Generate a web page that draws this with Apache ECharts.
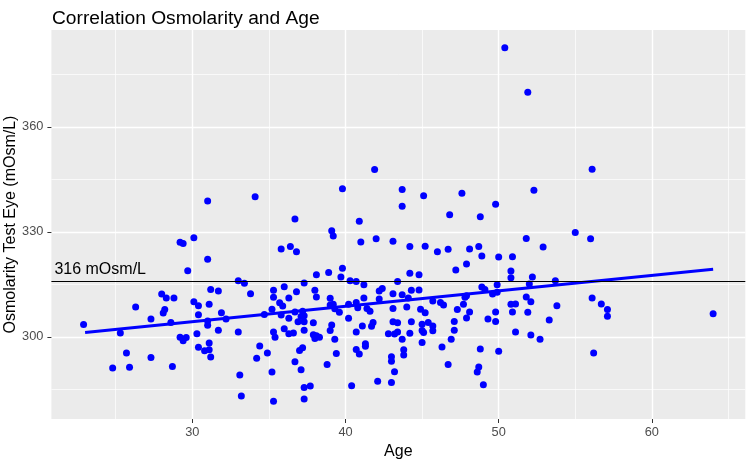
<!DOCTYPE html>
<html>
<head>
<meta charset="utf-8">
<title>Correlation Osmolarity and Age</title>
<script src="https://cdn.jsdelivr.net/npm/echarts@6/dist/echarts.min.js"></script>
<style>
  html, body { margin: 0; padding: 0; background: #fff; }
  #chart { width: 750px; height: 462px; }
</style>
</head>
<body>
<div id="chart"></div>
<script>
// values
const ages = [
  31.0, 34.1, 41.9, 39.8, 43.7, 43.7, 36.7, 40.9, 50.4, 51.9, 45.1, 47.6, 46.8, 48.8, 49.8, 52.3, 55.0, 56.1,
  29.2, 29.4, 30.1, 31.0, 29.7, 31.2, 31.7, 28.0, 28.3, 28.8, 30.1, 30.4, 31.1, 26.3, 28.2, 28.1, 30.4, 31.9,
  27.3, 28.6, 31.0, 31.0, 32.2, 22.9, 25.3, 31.7, 30.3, 29.2, 29.4, 29.6, 31.1, 30.4, 30.8, 31.1, 31.2, 25.7,
  27.3, 24.8, 25.9, 28.7,
  39.1, 39.2, 35.8, 36.4, 36.8, 41.0, 42.0, 43.1, 39.8, 39.7, 38.9, 38.1, 33.0, 33.4, 33.8, 35.3, 36.0, 37.3,
  36.8, 38.0, 35.3, 36.3, 38.1, 39.0, 40.3, 40.7, 41.2, 42.2, 42.4, 43.1, 43.4, 43.7, 35.7, 35.9, 35.2, 34.7,
  36.3, 35.8, 36.7, 37.2, 37.3, 37.1, 36.9, 37.3, 37.9, 39.0, 39.2, 39.3, 39.6, 40.2, 40.2, 40.7, 40.8, 41.2,
  41.4, 41.6, 42.2, 43.1, 33.0, 35.3, 35.4, 36.0, 36.3, 36.6, 37.3, 37.9, 38.0, 38.1, 38.3, 39.0, 39.1, 39.3,
  40.7, 41.1, 41.8, 41.7, 42.8, 43.1, 43.4, 43.2, 43.4, 43.7, 34.4, 34.9, 34.2, 37.0, 37.2, 39.4, 40.7, 40.9,
  41.3, 41.3, 43.0, 43.0, 43.8, 43.8, 36.7, 37.1, 38.8, 43.2, 33.1, 35.2, 42.1, 43.0, 37.3, 37.7, 40.4, 33.2,
  35.3, 37.3,
  51.8, 52.9, 44.2, 45.2, 46.0, 46.7, 48.1, 48.7, 48.9, 50.0, 50.9, 47.9, 47.2, 50.8, 44.2, 44.8, 50.8, 52.2,
  53.7, 52.0, 49.9, 48.9, 49.1, 49.6, 49.9, 47.9, 47.8, 44.3, 44.8, 44.1, 45.7, 46.2, 46.4, 47.7, 44.0, 44.9,
  45.2, 47.3, 48.1, 47.9, 49.8, 49.3, 49.8, 50.8, 51.1, 50.9, 51.8, 52.1, 51.9, 53.8, 53.3, 44.3, 45.0, 45.4,
  45.7, 45.7, 45.0, 45.1, 44.2, 47.1, 47.1, 46.9, 45.0, 46.3, 51.1, 52.1, 52.7, 48.8, 50.0, 46.7, 48.7, 48.6,
  49.0,
  56.0, 56.1, 56.7, 57.1, 57.1, 64.0, 56.2
]
const osmolarity = [
  338.8, 340.0, 347.8, 342.3, 342.1, 337.3, 333.7, 333.0, 382.6, 369.9, 340.3, 341.0, 334.9, 334.3, 337.9, 341.9, 329.8, 347.9,
  327.0, 326.7, 328.3, 322.2, 318.9, 313.5, 313.1, 312.2, 311.1, 311.1, 310.0, 308.9, 309.3, 308.5, 307.8, 306.8, 306.3, 306.9,
  305.1, 304.1, 304.5, 303.3, 305.1, 303.5, 301.1, 301.9, 300.9, 299.9, 298.9, 299.8, 298.2, 297.0, 296.0, 296.3, 294.2, 295.4,
  294.1, 291.1, 291.3, 291.5,
  330.3, 328.8, 325.1, 325.8, 324.3, 327.1, 328.0, 327.3, 319.6, 317.1, 318.4, 317.7, 316.0, 315.3, 312.3, 313.3, 314.3, 315.4,
  312.9, 313.3, 311.3, 311.1, 311.4, 311.0, 316.0, 315.8, 314.9, 313.1, 313.8, 312.3, 315.8, 312.0, 309.7, 308.8, 307.9, 306.4,
  305.3, 306.2, 307.1, 307.3, 306.0, 305.8, 304.3, 304.3, 304.0, 309.1, 309.3, 308.0, 307.0, 305.3, 309.3, 309.8, 308.3, 311.1,
  308.1, 307.3, 310.8, 308.1, 301.4, 301.4, 299.9, 302.3, 300.9, 301.1, 301.9, 300.6, 299.5, 300.3, 299.9, 301.8, 303.4, 299.3,
  301.4, 303.1, 304.1, 303.0, 300.9, 304.3, 304.0, 300.8, 301.4, 299.3, 297.4, 295.4, 293.9, 296.1, 296.9, 295.2, 296.4, 295.1,
  297.3, 298.0, 294.3, 293.0, 296.3, 294.8, 292.9, 290.6, 292.1, 290.0, 289.1, 289.9, 287.3, 286.9, 285.5, 285.9, 286.0, 283.1,
  281.6, 282.2,
  328.1, 325.7, 325.8, 325.9, 324.3, 325.0, 325.1, 325.8, 323.1, 322.8, 322.9, 320.8, 319.1, 318.8, 318.2, 317.7, 316.9, 317.1,
  316.0, 315.1, 314.9, 314.2, 313.5, 312.2, 312.7, 311.7, 311.3, 313.3, 313.4, 311.1, 310.2, 309.8, 309.1, 309.3, 308.5, 307.9,
  306.9, 307.8, 307.1, 305.4, 307.1, 305.1, 304.4, 309.3, 309.4, 307.1, 311.4, 310.0, 307.0, 308.9, 304.8, 304.3, 303.6, 304.1,
  303.1, 301.7, 301.8, 301.2, 301.0, 304.4, 301.9, 299.3, 298.4, 297.1, 301.4, 300.5, 299.3, 296.5, 295.9, 292.1, 291.4, 289.9,
  286.3,
  328.0, 311.1, 309.4, 307.8, 305.9, 306.6, 295.4
]
// linear fit line, end points as drawn
const fitAge = [23.0, 64.0]
const fitOsm = [301.2, 319.3]
const cutoff = 316

const xTicks = [30, 40, 50, 60]
const xMinorTicks = [25, 35, 45, 55, 65]
const yTicks = [300, 330, 360]
const yMinorTicks = [285, 315, 345, 375]
const xRange = [20.8, 66.1]
const yRange = [276.5, 387.7]

const font = 'Liberation Sans, Arial, Helvetica, sans-serif'
const chart = echarts.init(document.getElementById('chart'), null, { renderer: 'canvas' })

const majorGrid = { show: true, lineStyle: { color: '#FFFFFF', width: 1.4 } }
const minorGrid = { show: true, lineStyle: { color: '#FFFFFF', width: 0.7 } }

chart.setOption({
  animation: false,
  textStyle: { fontFamily: font },
  title: {
    text: 'Correlation Osmolarity and Age',
    left: 47,
    top: 4,
    textStyle: { fontSize: 19.2, fontWeight: 'normal', color: '#000', fontFamily: font }
  },
  grid: {
    left: 51.4,
    right: 4.7,
    top: 30,
    bottom: 43,
    show: true,
    backgroundColor: '#EBEBEB',
    borderWidth: 0,
    containLabel: false,
    outerBoundsMode: 'none'
  },
  xAxis: [{
    type: 'value',
    min: xRange[0],
    max: xRange[1],
    name: 'Age',
    nameLocation: 'middle',
    nameGap: 25,
    nameMoveOverlap: false,
    nameTextStyle: { fontSize: 16, color: '#000', fontFamily: font },
    axisLine: { show: false },
    axisTick: { show: true, customValues: xTicks, length: 4, lineStyle: { color: '#333333', width: 1 } },
    axisLabel: { customValues: xTicks, color: '#4D4D4D', fontSize: 12.8, margin: 7, fontFamily: font },
    splitLine: majorGrid
  }, {
    type: 'value',
    position: 'top',
    min: xRange[0],
    max: xRange[1],
    axisLine: { show: false },
    axisTick: { show: false, customValues: xMinorTicks },
    axisLabel: { show: false },
    splitLine: minorGrid
  }],
  yAxis: [{
    type: 'value',
    min: yRange[0],
    max: yRange[1],
    name: 'Osmolarity Test Eye (mOsm/L)',
    nameLocation: 'middle',
    nameRotate: 90,
    nameGap: 33,
    nameMoveOverlap: false,
    nameTextStyle: { fontSize: 16, color: '#000', fontFamily: font },
    axisLine: { show: false },
    axisTick: { show: true, customValues: yTicks, length: 4, lineStyle: { color: '#333333', width: 1 } },
    axisLabel: { customValues: yTicks, color: '#4D4D4D', fontSize: 12.8, margin: 8, fontFamily: font },
    splitLine: majorGrid
  }, {
    type: 'value',
    position: 'right',
    min: yRange[0],
    max: yRange[1],
    axisLine: { show: false },
    axisTick: { show: false, customValues: yMinorTicks },
    axisLabel: { show: false },
    splitLine: minorGrid
  }],
  series: [{
    type: 'scatter',
    data: ages.map((a, i) => [a, osmolarity[i]]),
    symbolSize: 7,
    itemStyle: { color: '#0000FF', opacity: 1 },
    z: 2,
    silent: true
  }, {
    type: 'line',
    data: fitAge.map((a, i) => [a, fitOsm[i]]),
    showSymbol: false,
    lineStyle: { color: '#0000FF', width: 3 },
    z: 3,
    silent: true,
    markLine: {
      silent: true,
      symbol: ['none', 'none'],
      lineStyle: { color: '#000000', width: 1.2, type: 'solid' },
      label: {
        show: true,
        position: 'insideStartTop',
        formatter: cutoff + ' mOsm/L',
        color: '#000',
        fontSize: 16,
        fontFamily: font,
        distance: [3, 3]
      },
      data: [{ yAxis: cutoff }]
    }
  }]
})
</script>
</body>
</html>
